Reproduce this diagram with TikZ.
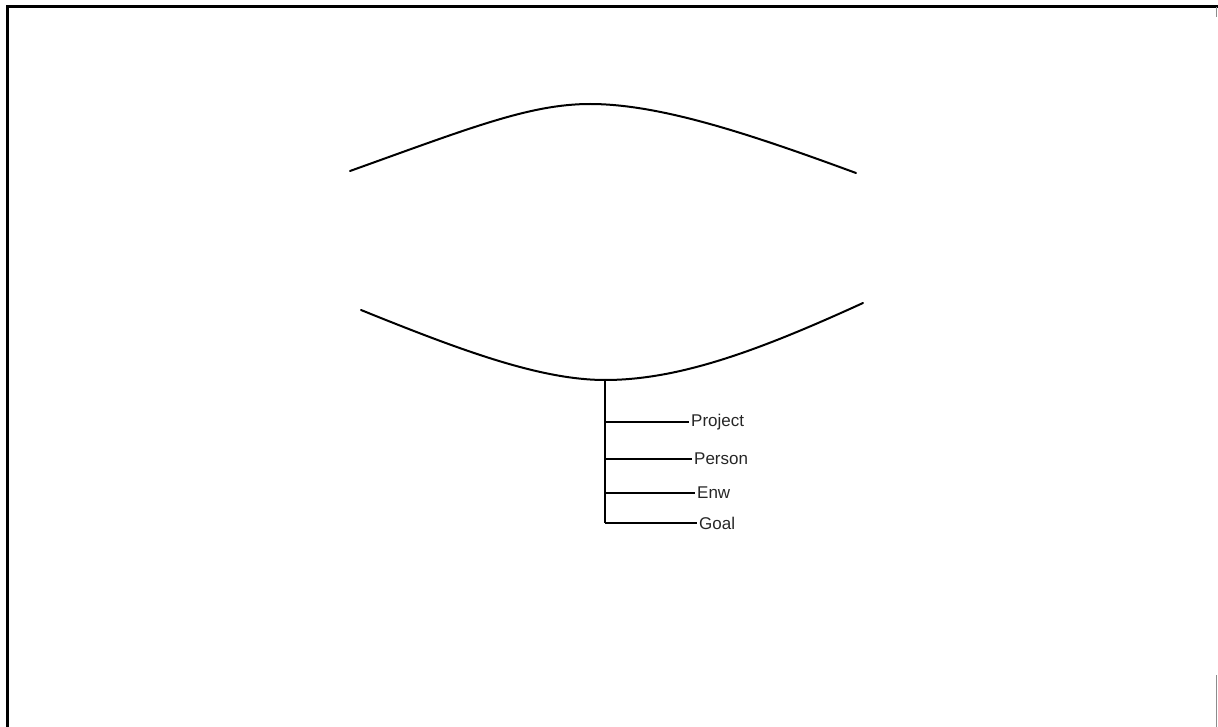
\documentclass[tikz,border=0pt]{standalone}
\usepackage{fontspec}
\setmainfont{Liberation Sans}
\usetikzlibrary{positioning,calc}

\begin{document}
\begin{tikzpicture}[
  x=1pt, y=-1pt,
  font=\fontsize{17}{20}\selectfont,
  frame/.style={draw=black, line width=3pt},
  rim/.style={draw=black!45, line width=1.6pt},
  lens/.style={draw=black, line width=2pt, line cap=round},
  stem/.style={draw=black, line width=1.8pt},
  lbl/.style={anchor=west, inner sep=2pt, text=black!85}
]
\useasboundingbox (0,0) rectangle (1218,727);
\draw[frame] (7,727) -- (7,7) -- (1218,7);
\draw[rim] (1216.5,7) -- (1216.5,17);
\draw[rim] (1216.5,675) -- (1216.5,727);
\coordinate (top) at (590,104);
\coordinate (base) at (605,380);
\draw[lens] (350,171) .. controls (470,128) and (530,104) .. (top)
            .. controls (660,104) and (750,134) .. (856,173);
\draw[lens] (361,310) .. controls (460,350) and (540,380) .. (base)
            .. controls (680,380) and (760,350) .. (863,303);
\node[lbl] (project) at (689,422) {Project};
\node[lbl] (person) at (692,459) {Person};
\node[lbl] (env) at (695,493) {Enw};
\node[lbl] (goal) at (697,523) {Goal};
\coordinate (foot) at (base |- goal.west);
\draw[stem] (base) -- (foot);
\draw[stem] (base |- project.west) -- (project.west);
\draw[stem] (base |- person.west) -- (person.west);
\draw[stem] (base |- env.west) -- (env.west);
\draw[stem] (foot) -- (goal.west);
\end{tikzpicture}
\end{document}
